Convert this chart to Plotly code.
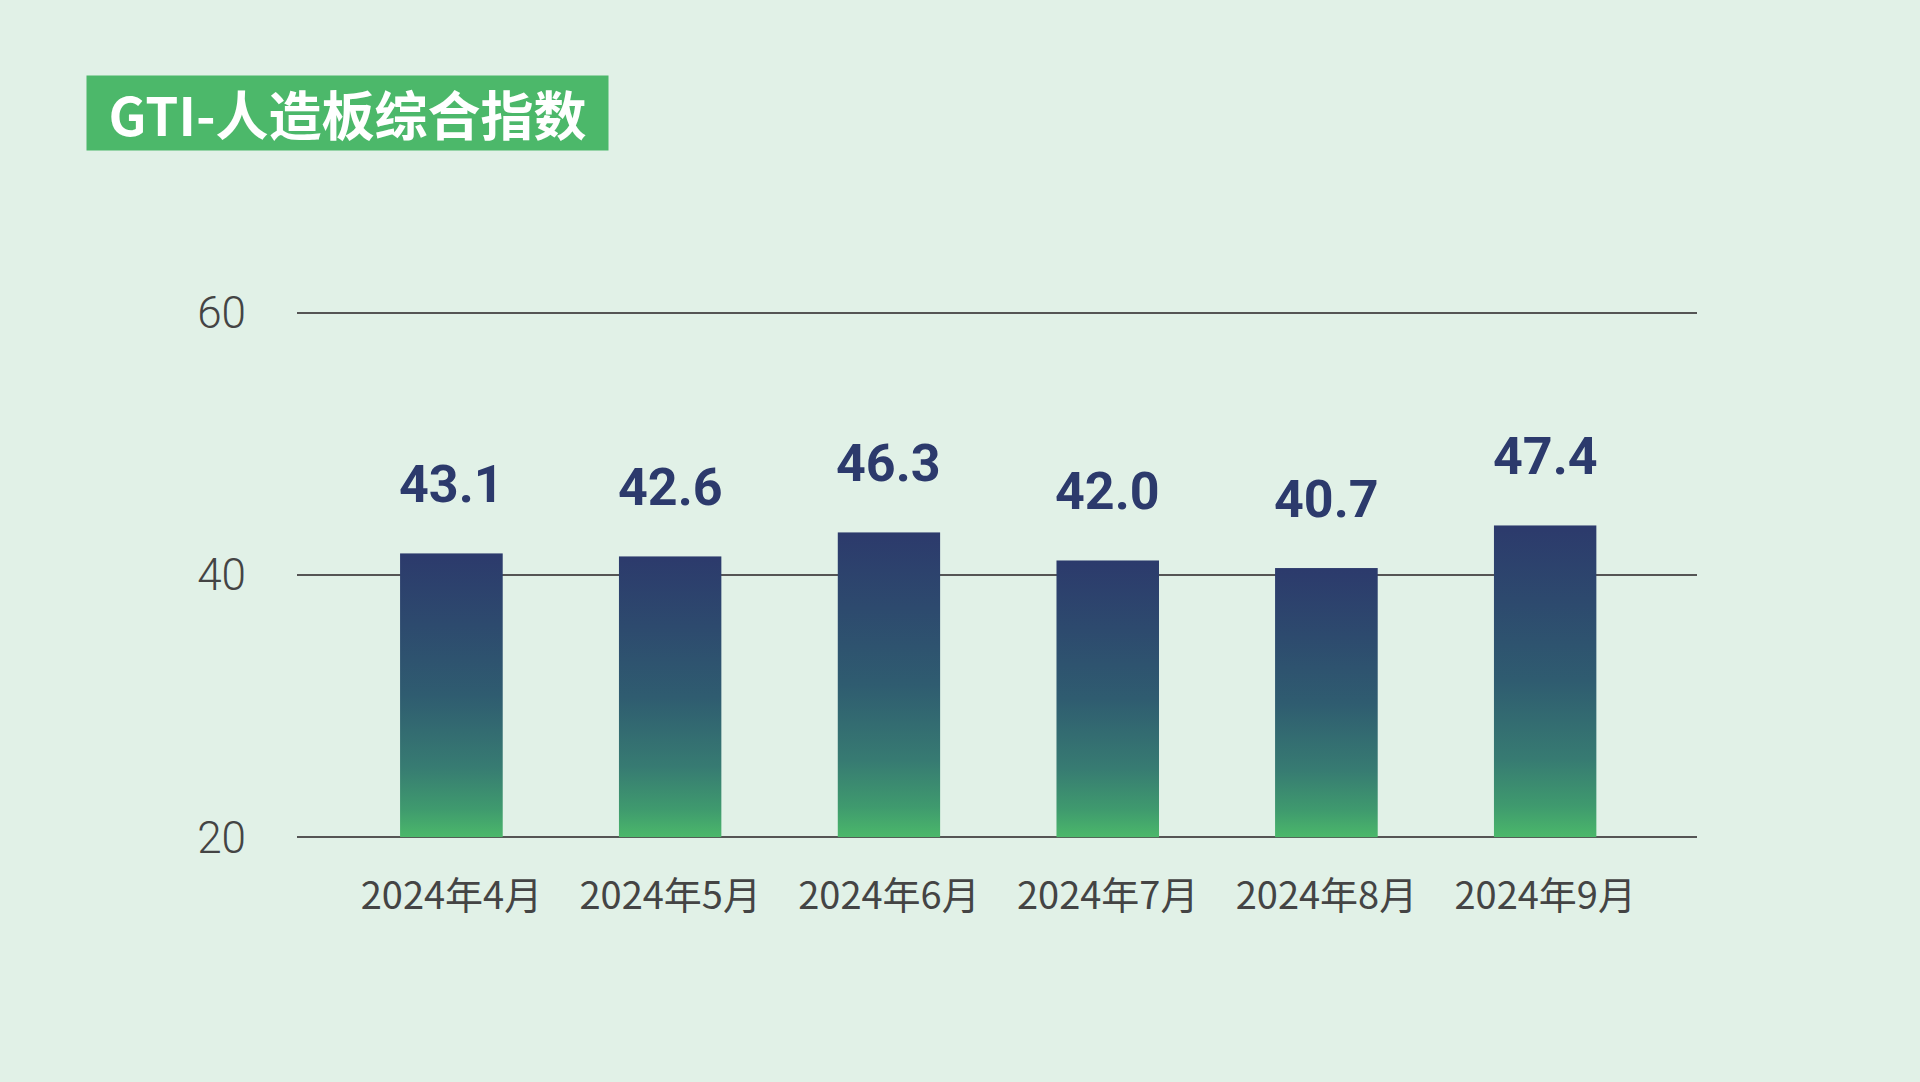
import base64
import plotly.graph_objects as go

# ---- data ----
categories = ["2024年4月", "2024年5月", "2024年6月", "2024年7月", "2024年8月", "2024年9月"]
bar_heights = [41.66, 41.43, 43.26, 41.12, 40.53, 43.79]   # bar tops as drawn
label_values = [43.1, 42.6, 46.3, 42.0, 40.7, 47.4]       # printed index values
y_ticks = [20, 40, 60]
title_text = "GTI-人造板综合指数"

# ---- style ----
BG = "#E1F1E7"
NAVY = "#2C3A6C"
GREEN = "#4CB86A"
GRID = "#555555"
TICK = "#444444"
NARROW = "Roboto, Noto Sans, sans-serif"

W, H = 1920, 1082
L, R, T, B = 297, 223, 310, 242
BAR_W = 0.47

svg = (
    '<svg xmlns="http://www.w3.org/2000/svg" width="10" height="100" viewBox="0 0 10 100" '
    'preserveAspectRatio="none"><defs><linearGradient id="g" x1="0" y1="0" x2="0" y2="1">'
    '<stop offset="0" stop-color="#2C3A6C"/>'
    '<stop offset="0.25" stop-color="#2D4A6E"/>'
    '<stop offset="0.5" stop-color="#2F5C70"/>'
    '<stop offset="0.75" stop-color="#377B72"/>'
    '<stop offset="0.9" stop-color="#3F9A6E"/>'
    '<stop offset="1" stop-color="#4BB86A"/>'
    '</linearGradient></defs><rect width="10" height="100" fill="url(#g)"/></svg>'
)
grad_uri = "data:image/svg+xml;base64," + base64.b64encode(svg.encode()).decode()

fig = go.Figure()
fig.add_trace(go.Bar(
    x=categories, y=bar_heights, width=BAR_W,
    marker=dict(color="rgba(0,0,0,0)", line=dict(width=0)),
    hoverinfo="skip", showlegend=False,
))

images = []
annotations = []
for i, (h, lab) in enumerate(zip(bar_heights, label_values)):
    images.append(dict(
        source=grad_uri, xref="x", yref="y", x=i, y=h,
        sizex=BAR_W, sizey=h - y_ticks[0], xanchor="center", yanchor="top",
        sizing="stretch", layer="above",
    ))
    annotations.append(dict(
        x=i, y=h, xref="x", yref="y", text=f"{lab:.1f}", showarrow=False,
        yanchor="bottom", xanchor="center", yshift=36,
        font=dict(family=NARROW, size=52, color=NAVY, weight="bold"),
    ))

plot_h = H - T - B
px_to_paper_x = lambda px: (px - L) / (W - L - R)
px_to_paper_y = lambda py: (H - B - py) / plot_h

annotations.append(dict(
    xref="paper", yref="paper", x=px_to_paper_x(86), y=px_to_paper_y(75),
    xanchor="left", yanchor="top", text=f"<b>{title_text}</b>", showarrow=False,
    width=521, height=74, borderpad=0, bgcolor=GREEN, align="center", valign="middle",
    font=dict(family="Noto Sans CJK SC", size=53, color="white"),
))

fig.update_layout(
    width=W, height=H,
    margin=dict(l=L, r=R, t=T, b=B, pad=0),
    paper_bgcolor=BG, plot_bgcolor=BG,
    images=images, annotations=annotations,
    showlegend=False, bargap=0,
    xaxis=dict(
        type="category", range=[-0.706, 5.694], showgrid=False, zeroline=False,
        showline=False, ticks="", ticklabelstandoff=30,
        tickfont=dict(family="Noto Sans CJK SC", size=38, color=TICK),
    ),
    yaxis=dict(
        range=[19.8, 60.2], tickvals=y_ticks, showgrid=True, gridcolor=GRID, gridwidth=2,
        zeroline=False, showline=False, ticks="", ticklabelstandoff=50,
        tickfont=dict(family=NARROW, size=44, color=TICK, weight=300),
    ),
)

fig.write_html("out.html")
